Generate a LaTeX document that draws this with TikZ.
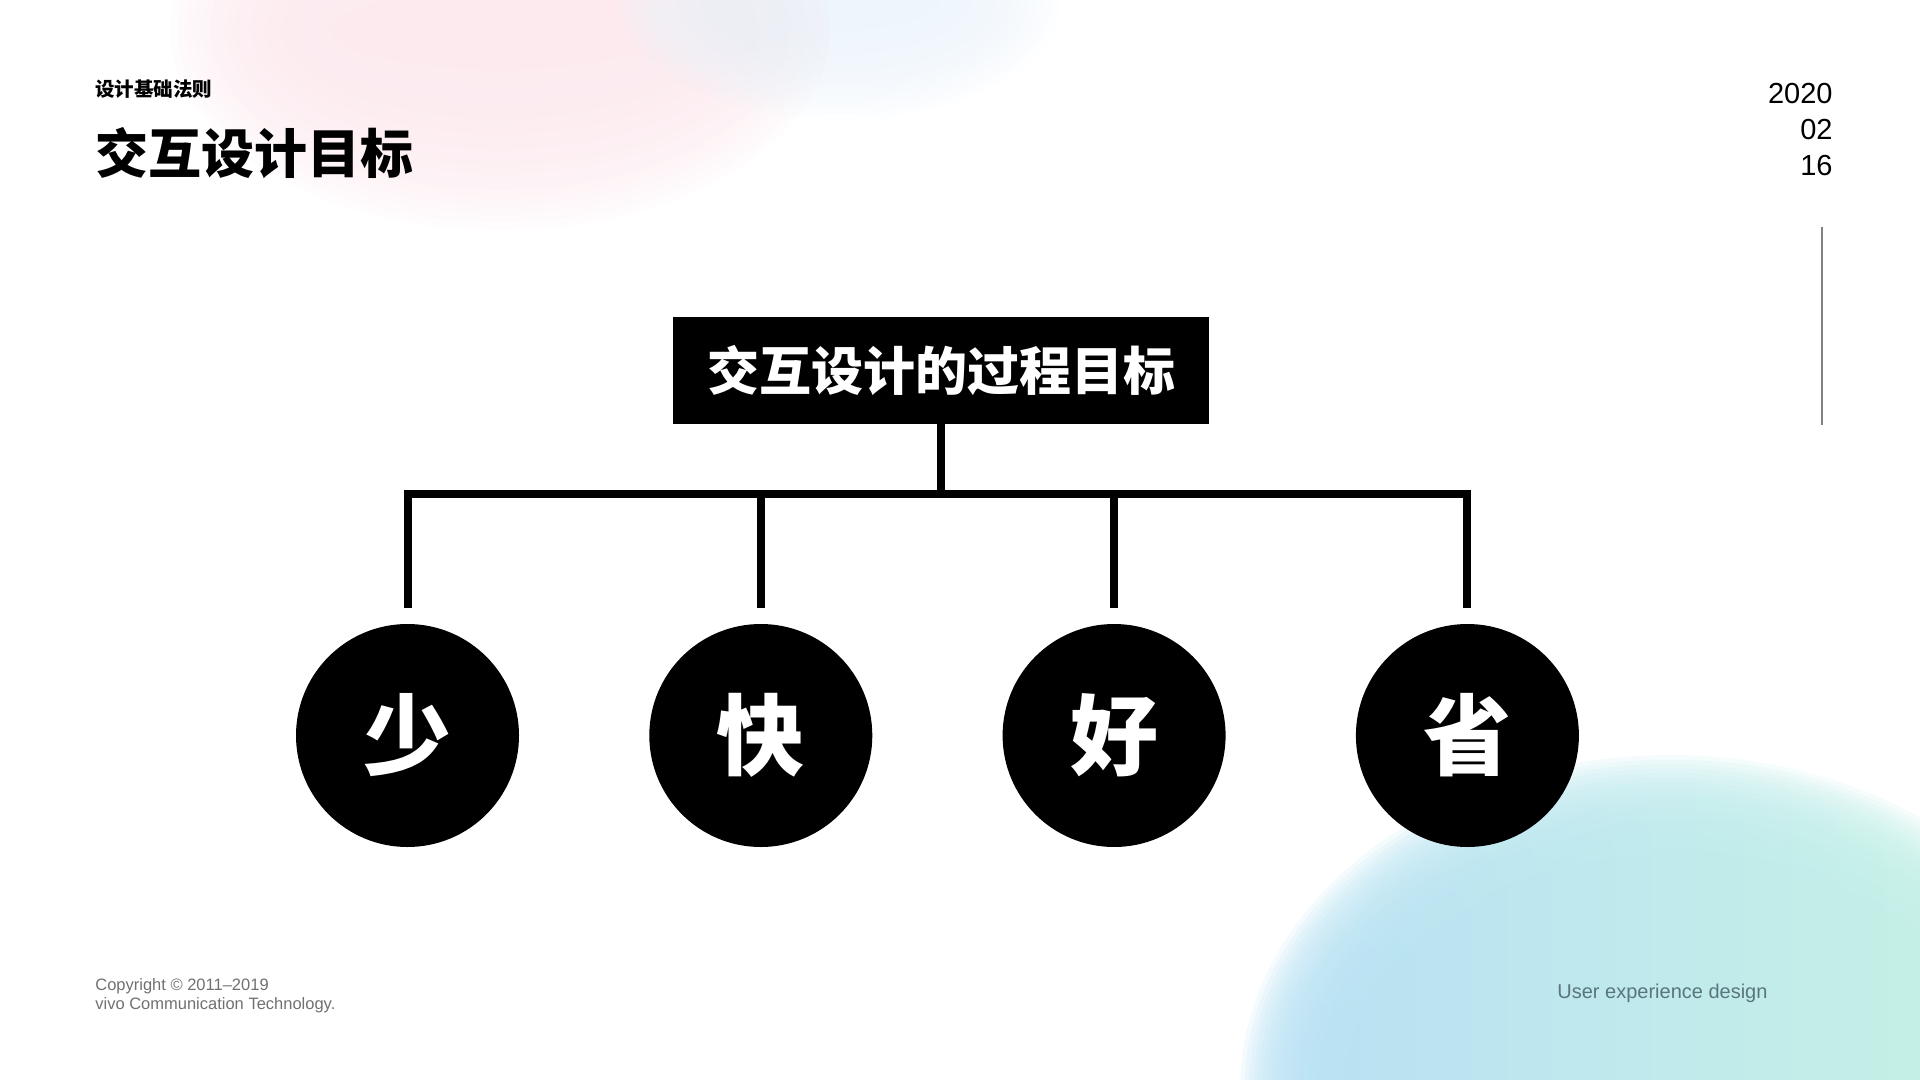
\documentclass[tikz,border=0pt]{standalone}
\usepackage{fontspec}
\setmainfont{Liberation Sans}
\newfontfamily\cjk{Noto Sans CJK SC}
\usepackage{tikz}
\usetikzlibrary{
  positioning
}
\definecolor{footgray}{RGB}{112,112,112}
\definecolor{tagteal}{RGB}{88,118,124}
\definecolor{rulegray}{RGB}{130,130,130}
\definecolor{blushpink}{RGB}{252,233,238}
\definecolor{mistblue}{RGB}{236,244,251}
\definecolor{skyblob}{RGB}{184,225,244}
\definecolor{mintblob}{RGB}{198,243,228}

\begin{document}
\begin{tikzpicture}[x=0.5pt, y=-0.5pt,
  goal/.style={fill=black, text=white, font=\cjk\bfseries\fontsize{26}{30}\selectfont, minimum width=268pt, minimum height=53.5pt, inner sep=0pt},
  aim/.style={circle, fill=black, text=white, font=\cjk\bfseries\fontsize{44}{50}\selectfont, minimum size=111.5pt, inner sep=0pt},
  link/.style={line width=4pt, black}]
  \useasboundingbox (0,0) rectangle (1920,1080);

  % background blobs, built up from thin layers
  \foreach \k in {0,...,23}
    \fill[blushpink, opacity=0.12] (500,30) ellipse [x radius={330-8*\k}, y radius={200-8*\k}];
  \foreach \k in {0,...,15}
    \fill[mistblue, opacity=0.12] (840,0) ellipse [x radius={220-8*\k}, y radius={120-6*\k}];
  \foreach \k in {0,...,23}
    \shade[left color=skyblob, right color=mintblob, opacity=0.16] (1670,1090) ellipse [x radius={430-4.5*\k}, y radius={335-4.5*\k}];

  % header
  \node[anchor=west, inner sep=0pt, font=\cjk\bfseries\fontsize{9.75}{12}\selectfont] (series) at (95,89.5) {设计基础法则};
  \node[anchor=west, inner sep=0pt, font=\cjk\bfseries\fontsize{26.5}{32}\selectfont] (title) at (95,153) {交互设计目标};
  \node[anchor=north east, inner sep=0pt, align=right, font=\fontsize{14.5}{18}\selectfont] (date) at (1833,83) {2020\\02\\16};
  \draw[rulegray, line width=0.75pt] (1822,227) -- (1822,425);

  % tree
  \node[goal] (process) at (941,370.5) {交互设计的过程目标};
  \coordinate[below=35pt of process.south] (bus);

  \node[aim] (less) at (407.5,735.5) {少};
  \node[aim, right=64.75pt of less] (fast) {快};
  \node[aim, right=64.75pt of fast] (good) {好};
  \node[aim, right=64.75pt of good] (save) {省};

  \draw[link] (process.south) -- (bus);
  \foreach \aim in {less,fast,good,save}
    \draw[link, shorten <=8pt] (\aim.north) |- (bus);

  % footer
  \node[anchor=north west, inner sep=0pt, align=left, text=footgray, font=\fontsize{8.25}{9.5}\selectfont] (copy) at (95,978) {Copyright © 2011–2019\\vivo Communication Technology.};
  \node[anchor=north west, inner sep=0pt, text=tagteal, font=\fontsize{10}{12}\selectfont] (tag) at (1557,984) {User experience design};
\end{tikzpicture}
\end{document}
